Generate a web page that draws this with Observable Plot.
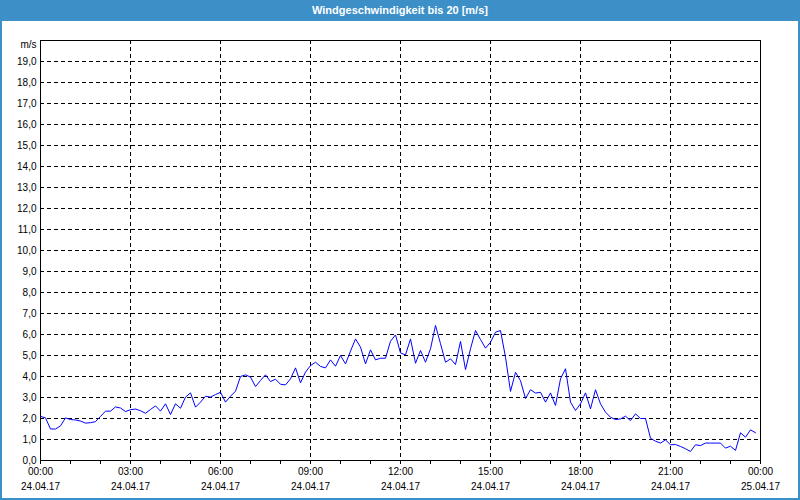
<!DOCTYPE html>
<html>
<head>
<meta charset="utf-8">
<script src="https://cdn.jsdelivr.net/npm/d3@7"></script>
<script src="https://cdn.jsdelivr.net/npm/@observablehq/plot@0.6"></script>
<style>
  html, body { margin: 0; padding: 0; background: #ffffff; }
  #wrap { position: relative; width: 800px; height: 500px; overflow: hidden; background: #ffffff; }
  #title { height: 21px; line-height: 21px; background: #3c90c7; color: #ffffff; text-align: center;
           font-family: "Liberation Sans", Arial, sans-serif; font-size: 11px; font-weight: bold; }
  #border { position: absolute; left: 0; top: 0; width: 800px; height: 500px; box-sizing: border-box;
            border-left: 2px solid #3c90c7; border-right: 2px solid #3c90c7; border-bottom: 2px solid #3c90c7;
            pointer-events: none; }
  svg { display: block; }
</style>
</head>
<body>
<div id="wrap">
  <div id="title">Windgeschwindigkeit bis 20 [m/s]</div>
  <div id="chart"></div>
  <div id="border"></div>
</div>
<script>
// Wind speed samples every 10 minutes from 00:00 to 23:50 (m/s)
const windSpeed = [
  2.1, 2.03, 1.5, 1.5, 1.65, 2.03, 1.95, 1.93, 1.88, 1.78, 1.8, 1.85, 2.1, 2.35, 2.35, 2.55, 2.5, 2.33, 2.42, 2.45, 2.37, 2.25, 2.43, 2.6, 2.35,
  2.7, 2.19, 2.7, 2.49, 3.02, 3.22, 2.54, 2.78, 3.06, 3.02, 3.14, 3.25, 2.78, 3.06, 3.3, 4.0, 4.08, 3.97, 3.52, 3.81, 4.08, 3.76, 3.87, 3.63,
  3.6, 3.89, 4.41, 3.7, 4.21, 4.52, 4.68, 4.48, 4.41, 4.79, 4.49, 5.0, 4.6, 5.21, 5.79, 5.4, 4.6, 5.27, 4.79, 4.87, 4.87, 5.68, 5.98, 5.12,
  5.03, 5.79, 4.63, 5.24, 4.68, 5.32, 6.43, 5.56, 4.68, 4.84, 4.57, 5.67, 4.33, 5.32, 6.19, 5.76, 5.35, 5.63, 6.11, 6.19, 4.92, 3.29, 4.2,
  3.8, 2.95, 3.37, 3.21, 3.25, 2.78, 3.22, 2.62, 3.89, 4.37, 2.78, 2.38, 2.7, 3.22, 2.46, 3.37, 2.7, 2.3, 2.06, 1.95, 1.98, 2.11, 1.9, 2.22, 2.0,
  2.0, 1.06, 0.92, 0.83, 0.98, 0.75, 0.76, 0.67, 0.56, 0.43, 0.75, 0.71, 0.83, 0.83, 0.83, 0.83, 0.59, 0.68, 0.48, 1.32, 1.11, 1.46, 1.32
];
const sampleMinutes = 10;

// Axis ticks (hours since 24.04.17 00:00)
const majorHours = [0, 3, 6, 9, 12, 15, 18, 21, 24];
const timeLabels = ["00:00", "03:00", "06:00", "09:00", "12:00", "15:00", "18:00", "21:00", "00:00"];
const dateLabels = ["24.04.17", "24.04.17", "24.04.17", "24.04.17", "24.04.17", "24.04.17", "24.04.17", "24.04.17", "25.04.17"];
const gridHours = [3, 6, 9, 12, 15, 18, 21];
const minorHours = d3.range(0, 25, 1);
const yTicks = d3.range(0, 20, 1);
const yGrid = d3.range(1, 20, 1);
const yUnit = "m/s";

const data = windSpeed.map((v, i) => ({ h: i * sampleMinutes / 60, v }));

const fmt = d => d.toFixed(1).replace(".", ",");

const chart = Plot.plot({
  width: 800,
  height: 479,
  marginTop: 19,
  marginLeft: 40,
  marginRight: 40,
  marginBottom: 40,
  style: { fontFamily: "'Liberation Sans', Arial, sans-serif", fontSize: "10px", color: "#000", background: "transparent" },
  x: { domain: [0, 24], axis: null },
  y: { domain: [0, 20], axis: null },
  marks: [
    Plot.ruleY(yGrid, { stroke: "#000", strokeDasharray: "4,3", strokeWidth: 1, strokeOpacity: 1 }),
    Plot.ruleX(gridHours, { stroke: "#000", strokeDasharray: "4,3", strokeWidth: 1, strokeOpacity: 1 }),
    Plot.line(data, { x: "h", y: "v", stroke: "#0000ff", strokeWidth: 1 }),
    Plot.frame({ stroke: "#000", strokeWidth: 1 }),
    Plot.axisX(minorHours, { tickSize: 4, tickFormat: () => "", label: null, stroke: "#000", strokeOpacity: 1 }),
    Plot.text(majorHours, { x: d => d, text: (d, i) => timeLabels[i], frameAnchor: "bottom", dy: 14, fill: "#000" }),
    Plot.text(majorHours, { x: d => d, text: (d, i) => dateLabels[i], frameAnchor: "bottom", dy: 29, fill: "#000" }),
    Plot.axisY(yTicks, { tickSize: 0, tickPadding: 4, tickFormat: fmt, label: null, fill: "#000" }),
    Plot.text([20], { y: d => d, text: () => yUnit, frameAnchor: "left", textAnchor: "end", dx: -4, dy: 4, fill: "#000" })
  ]
});
document.getElementById("chart").appendChild(chart);
</script>
</body>
</html>
